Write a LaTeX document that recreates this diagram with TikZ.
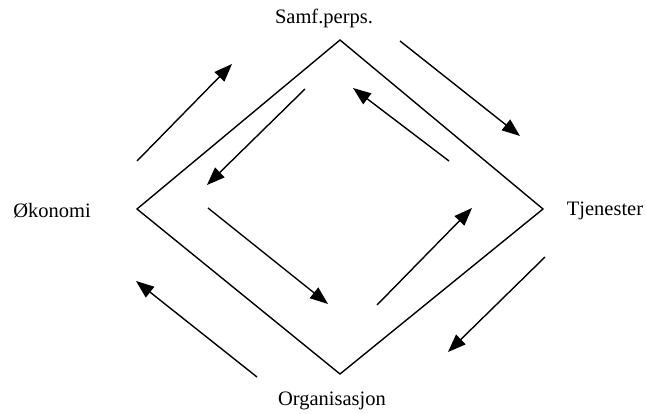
\documentclass[tikz,border=0pt]{standalone}
\usepackage{fontspec}
\setmainfont{Liberation Serif}
\usetikzlibrary{arrows.meta}
\begin{document}
\begin{tikzpicture}[x=1pt,y=-1pt,
  edge/.style={line width=1.4pt},
  flow/.style={line width=1.4pt,-{Triangle[length=18pt,width=13.5pt]}},
  lbl/.style={font=\fontsize{20.5}{23}\selectfont,inner sep=0pt}]
\useasboundingbox (0,0) rectangle (646,414);
% diamond vertices
\coordinate (T) at (340,40);
\coordinate (R) at (543,209);
\coordinate (B) at (340,374);
\coordinate (L) at (137,209);
\draw[edge,line join=miter] (T) -- (R) -- (B) -- (L) -- cycle;
% labels
\node[lbl] (samf) at (324,18) {Samf.perps.};
\node[lbl] (tjen) at (605,211) {Tjenester};
\node[lbl] (okon) at (52,211) {Økonomi};
\node[lbl] (org) at (332,401) {Organisasjon};
% outer arrows
\coordinate (a1s) at (137,161); \coordinate (a1e) at (232,64);
\coordinate (a2s) at (400,41);  \coordinate (a2e) at (520,136);
\coordinate (a3s) at (545,257); \coordinate (a3e) at (448,352);
\coordinate (a4s) at (257,377); \coordinate (a4e) at (136,281);
% inner arrows
\coordinate (b1s) at (305,89);  \coordinate (b1e) at (207,185);
\coordinate (b2s) at (449,161); \coordinate (b2e) at (353,88);
\coordinate (b3s) at (208,208); \coordinate (b3e) at (328,304);
\coordinate (b4s) at (377,305); \coordinate (b4e) at (472,208);
\draw[flow] (a1s) -- (a1e);
\draw[flow] (a2s) -- (a2e);
\draw[flow] (a3s) -- (a3e);
\draw[flow] (a4s) -- (a4e);
\draw[flow] (b1s) -- (b1e);
\draw[flow] (b2s) -- (b2e);
\draw[flow] (b3s) -- (b3e);
\draw[flow] (b4s) -- (b4e);
\end{tikzpicture}
\end{document}
